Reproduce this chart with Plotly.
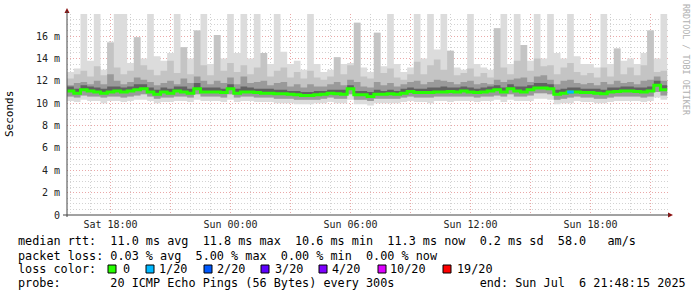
import plotly.graph_objects as go

# ---------------- data (20-minute steps, Sat 15:50 -> Sun 21:50) ----------------
start_hour = 15 + 50 / 60          # hours since Sat 00:00
step_hours = 20 / 60

median_ms = [11.1, 10.9, 11.2, 11.1, 11.0, 10.9, 11.0, 11.1, 11.0, 11.1,
             11.2, 11.3, 11.0, 10.8, 11.0, 10.9, 11.1, 11.0, 10.9, 11.3,
             11.0, 11.0, 11.0, 10.95, 11.3, 10.9, 11.0, 11.0, 10.95, 10.9,
             10.9, 10.85, 10.85, 10.8, 10.75, 10.7, 10.7, 10.75, 10.8, 10.9,
             10.85, 10.8, 11.3, 10.75, 10.75, 10.6, 10.8, 10.8, 10.85, 10.8,
             10.9, 11.05, 10.95, 10.95, 10.95, 11.0, 11.0, 11.05, 11.0, 11.1,
             11.0, 10.95, 11.0, 11.1, 11.2, 11.0, 11.3, 11.1, 11.0, 11.2,
             11.35, 11.35, 11.3, 10.8, 10.9, 11.0, 11.0, 10.95, 10.95, 10.9,
             10.85, 11.0, 11.05, 11.1, 11.1, 11.05, 11.0, 11.1, 11.6, 11.2,
             11.2]

loss_count = [0, 0, 0, 0, 0, 0, 0, 0, 0, 0,
              0, 0, 0, 0, 0, 0, 0, 0, 0, 0,
              0, 0, 0, 0, 0, 0, 0, 0, 0, 0,
              0, 0, 0, 0, 0, 0, 0, 0, 0, 0,
              0, 0, 0, 0, 0, 0, 0, 0, 0, 0,
              0, 0, 0, 0, 0, 0, 0, 0, 0, 0,
              0, 0, 0, 0, 0, 0, 0, 0, 0, 0,
              0, 0, 0, 0, 0, 1, 0, 0, 0, 0,
              0, 0, 0, 0, 0, 0, 0, 0, 0, 0,
              0]

# smoke envelopes (ms)
smoke_max = [12.8, 13.1, 18, 13.8, 18, 13.0, 15.5, 18, 18, 13.6,
             15.9, 14.0, 18, 14.2, 13.8, 14.5, 18, 15.0, 14.0, 16.5,
             18, 13.5, 16.1, 14.0, 18, 14.5, 18, 14.0, 18, 14.5,
             13.5, 18, 14.6, 13.5, 13.8, 13.0, 18, 13.5, 12.8, 13.0,
             14.1, 13.5, 13.6, 17.2, 13.2, 12.8, 16.3, 13.3, 18, 13.5,
             12.8, 13.2, 18, 14.0, 18, 14.8, 18, 14.7, 13.2, 13.0,
             18, 13.5, 13.2, 13.0, 16.7, 18, 13.5, 18, 15.2, 13.8,
             18, 14.0, 18, 14.5, 14.0, 18, 14.2, 13.5, 13.5, 13.2,
             18, 13.5, 14.9, 13.8, 14.0, 13.5, 14.5, 16.5, 14.0, 18,
             13.0]

smoke_upper_mid = [12.2, 12.6, 12.9, 12.4, 13.3, 12.5, 15.4, 13.2, 12.6, 12.9,
                   15.9, 13.4, 13.0, 12.5, 12.9, 13.8, 12.7, 15.0, 12.6, 16.5,
                   13.4, 12.5, 16.1, 12.9, 13.6, 12.8, 13.4, 12.6, 13.2, 14.5,
                   12.4, 12.9, 13.2, 12.3, 12.8, 12.2, 12.9, 12.3, 12.1, 12.4,
                   14.1, 12.6, 13.4, 17.2, 12.4, 12.2, 16.3, 12.7, 13.1, 12.3,
                   12.1, 12.6, 13.7, 12.6, 13.4, 13.9, 13.0, 14.7, 12.5, 12.7,
                   13.1, 12.4, 12.7, 12.3, 16.7, 13.2, 12.6, 13.8, 15.2, 12.9,
                   14.0, 13.3, 13.4, 12.6, 13.2, 13.6, 12.8, 12.5, 12.7, 12.3,
                   13.2, 12.4, 14.9, 12.6, 13.2, 12.5, 13.4, 16.5, 12.8, 12.9,
                   12.4]

smoke_upper_dark = [11.6, 11.8, 11.9, 11.7, 12.0, 11.7, 12.6, 12.0, 11.7, 11.9,
                    12.3, 12.1, 11.9, 11.6, 11.8, 12.0, 11.7, 12.2, 11.8, 12.4,
                    12.0, 11.7, 12.0, 11.8, 12.3, 11.7, 12.4, 11.8, 11.9, 12.0,
                    11.6, 11.8, 11.9, 11.5, 11.7, 11.4, 11.7, 11.5, 11.5, 11.7,
                    11.9, 11.6, 12.1, 11.9, 11.5, 11.4, 11.9, 11.6, 11.8, 11.5,
                    11.7, 11.9, 12.0, 11.7, 11.9, 12.1, 12.0, 11.9, 11.7, 11.9,
                    12.0, 11.7, 11.8, 11.7, 12.1, 11.9, 12.1, 12.2, 12.3, 11.9,
                    12.4, 12.5, 12.1, 11.7, 12.0, 12.1, 11.8, 11.7, 11.8, 11.6,
                    11.9, 11.7, 12.0, 11.8, 11.9, 11.7, 12.0, 12.1, 12.4, 12.0,
                    11.8]

smoke_upper_core = [11.5, 11.3, 11.6, 11.5, 11.4, 11.3, 11.5, 11.5, 11.4, 11.5,
                    11.7, 11.7, 11.4, 11.2, 11.4, 11.3, 11.5, 11.5, 11.3, 11.8,
                    11.4, 11.4, 11.4, 11.3, 11.7, 11.3, 11.5, 11.4, 11.3, 11.3,
                    11.3, 11.2, 11.2, 11.1, 11.1, 11.0, 11.0, 11.1, 11.1, 11.2,
                    11.2, 11.2, 11.6, 11.1, 11.1, 11.0, 11.2, 11.1, 11.2, 11.1,
                    11.3, 11.4, 11.3, 11.3, 11.4, 11.4, 11.5, 11.4, 11.4, 11.5,
                    11.4, 11.3, 11.4, 11.5, 11.6, 11.4, 11.7, 11.5, 11.5, 11.6,
                    11.8, 11.8, 11.7, 11.2, 11.3, 11.4, 11.4, 11.3, 11.3, 11.3,
                    11.2, 11.4, 11.4, 11.5, 11.5, 11.4, 11.4, 11.5, 12.0, 11.6,
                    11.5]

smoke_lower_mid = [10.6, 10.5, 10.7, 10.6, 10.6, 10.5, 10.6, 10.6, 10.5, 10.6,
                   10.7, 10.8, 10.6, 10.4, 10.5, 10.5, 10.6, 10.6, 10.5, 10.8,
                   10.6, 10.6, 10.6, 10.5, 10.8, 10.5, 10.6, 10.6, 10.5, 10.5,
                   10.5, 10.4, 10.4, 10.4, 10.3, 10.3, 10.3, 10.3, 10.4, 10.5,
                   10.4, 10.4, 10.8, 10.3, 10.3, 10.2, 10.4, 10.4, 10.4, 10.4,
                   10.5, 10.6, 10.5, 10.5, 10.5, 10.6, 10.6, 10.6, 10.6, 10.6,
                   10.6, 10.5, 10.6, 10.6, 10.7, 10.6, 10.8, 10.6, 10.6, 10.7,
                   10.9, 10.9, 10.8, 10.3, 10.4, 10.5, 10.6, 10.5, 10.5, 10.4,
                   10.4, 10.5, 10.6, 10.6, 10.6, 10.6, 10.5, 10.6, 11.0, 10.7,
                   10.7]

smoke_min = [10.2, 10.1, 10.3, 10.2, 10.2, 10.0, 10.2, 10.2, 10.1, 10.2,
             10.3, 10.3, 10.2, 10.0, 10.1, 10.1, 10.2, 10.2, 10.1, 10.3,
             10.2, 10.2, 10.2, 10.1, 10.3, 10.1, 10.2, 10.2, 10.1, 10.1,
             10.1, 10.0, 10.0, 10.0, 9.9, 9.9, 9.9, 10.0, 10.0, 10.1,
             10.0, 10.0, 10.3, 9.9, 9.9, 9.8, 10.0, 10.0, 10.0, 10.0,
             10.1, 10.2, 10.1, 10.1, 10.0, 10.2, 10.2, 10.1, 10.2, 10.2,
             10.2, 10.1, 10.2, 10.2, 10.3, 10.1, 10.3, 10.2, 10.2, 10.2,
             10.4, 10.4, 10.3, 9.9, 10.0, 10.0, 10.2, 10.1, 10.1, 10.0,
             10.0, 10.1, 10.2, 10.2, 10.2, 10.2, 10.1, 10.2, 10.5, 10.3,
             10.3]

x_tick_hours = [18, 21, 24, 27, 30, 33, 36, 39, 42, 45]
x_tick_text = ["Sat 18:00", "", "Sun 00:00", "", "Sun 06:00", "", "Sun 12:00", "", "Sun 18:00", ""]
y_tick_vals = [0, 2, 4, 6, 8, 10, 12, 14, 16]
y_tick_text = ["0", "2 m", "4 m", "6 m", "8 m", "10 m", "12 m", "14 m", "16 m"]

loss_labels = ["0", "1/20", "2/20", "3/20", "4/20", "10/20", "19/20"]
loss_steps = [0, 1, 2, 3, 4, 10, 19]
loss_colors = ["#26ff00", "#00b8ff", "#0059ff", "#5e00ff", "#7e00ff", "#dd00ff", "#ff0000"]

legend_rtt = "median rtt:  11.0 ms avg  11.8 ms max  10.6 ms min  11.3 ms now  0.2 ms sd  58.0   am/s"
legend_loss = "packet loss: 0.03 % avg  5.00 % max  0.00 % min  0.00 % now"
legend_probe = "probe:       20 ICMP Echo Pings (56 Bytes) every 300s            end: Sun Jul  6 21:48:15 2025"

# ---------------- figure ----------------
times = [start_hour + i * step_hours for i in range(len(median_ms))]

W, H = 697, 297
L, R, T, B = 67, 29, 14, 82
PW, PH = W - L - R, H - T - B
PX_PER_HOUR = 20
axis_start = 18 - 43.5 / PX_PER_HOUR   # Sat 18:00 sits at x = 110.5 px


def px(xp):
    return (xp - L) / PW


def py(yp):
    return (H - B - yp) / PH


fig = go.Figure()

bands = [
    (smoke_min, smoke_max, "#dcdcdc"),
    (smoke_lower_mid, smoke_upper_mid, "#c4c4c4"),
    (smoke_lower_mid, smoke_upper_dark, "#9a9a9a"),
    (median_ms, smoke_upper_core, "#626262"),
]
for lo, hi, col in bands:
    fig.add_trace(go.Scatter(x=times, y=lo, mode="lines", line=dict(width=0, shape="hv"),
                             showlegend=False, hoverinfo="skip"))
    fig.add_trace(go.Scatter(x=times, y=hi, mode="lines", line=dict(width=0, shape="hv"),
                             fill="tonexty", fillcolor=col, showlegend=False, hoverinfo="skip"))

fig.add_trace(go.Scatter(x=times, y=median_ms, mode="lines",
                         line=dict(color=loss_colors[0], width=3, shape="hv"),
                         showlegend=False))


def loss_color(n):
    col = loss_colors[0]
    for s, c in zip(loss_steps, loss_colors):
        if n >= s:
            col = c
    return col


for i, n in enumerate(loss_count):
    if n > 0 and i + 1 < len(times):
        fig.add_trace(go.Scatter(x=[times[i], times[i + 1]], y=[median_ms[i], median_ms[i]],
                                 mode="lines", line=dict(color=loss_color(n), width=3),
                                 showlegend=False))

mono = "DejaVu Sans Mono"
ann = []


def txt(s, x, y, size=11.8, color="#000000", angle=0, xanchor="left"):
    ann.append(dict(text=s.replace(" ", "\u00a0"), x=px(x), y=py(y), xref="paper", yref="paper",
                    xanchor=xanchor, yanchor="middle", showarrow=False, textangle=angle,
                    font=dict(family=mono, size=size, color=color)))


txt(legend_rtt, 16, 241)
txt(legend_loss, 16, 256)
txt("loss color:", 16, 269)
txt(legend_probe, 16, 283)
txt("Seconds", 10, 114, size=11, angle=-90, xanchor="center")
txt("RRDTOOL / TOBI OETIKER", 686, 60, size=8.4, color="#b0b0b0", angle=90, xanchor="center")

shapes = []
square_left = [108, 146, 204, 261, 319, 378, 443]
label_left = [121, 157, 215, 273, 330, 388, 455]
for sl, ll, lab, col in zip(square_left, label_left, loss_labels, loss_colors):
    shapes.append(dict(type="rect", xref="paper", yref="paper",
                       x0=px(sl), x1=px(sl + 8), y0=py(273), y1=py(265),
                       fillcolor=col, line=dict(color="#000000", width=1)))
    txt(lab, ll, 269)

# axis arrows
arrow_col = "#8b1010"
shapes.append(dict(type="path", xref="paper", yref="paper",
                   path=f"M {px(64.5)} {py(13)} L {px(69.5)} {py(13)} L {px(67)} {py(8)} Z",
                   fillcolor=arrow_col, line=dict(color=arrow_col, width=0)))
shapes.append(dict(type="path", xref="paper", yref="paper",
                   path=f"M {px(668)} {py(212.5)} L {px(668)} {py(217.5)} L {px(673)} {py(215)} Z",
                   fillcolor=arrow_col, line=dict(color=arrow_col, width=0)))
shapes.append(dict(type="line", xref="paper", yref="paper", x0=px(67), x1=px(67),
                   y0=py(217), y1=py(11), line=dict(color="#444444", width=1)))
shapes.append(dict(type="line", xref="paper", yref="paper", x0=px(63), x1=px(669),
                   y0=py(215), y1=py(215), line=dict(color="#444444", width=1)))

grid_dash = "1px,2px"
fig.update_layout(
    width=W, height=H, autosize=False,
    margin=dict(l=L, r=R, t=T, b=B, pad=0),
    paper_bgcolor="#ffffff", plot_bgcolor="#ffffff",
    showlegend=False,
    annotations=ann, shapes=shapes,
    xaxis=dict(range=[axis_start, axis_start + PW / PX_PER_HOUR], tickmode="array",
               tickvals=x_tick_hours, ticktext=x_tick_text,
               showgrid=True, gridcolor="#eaa8a8", griddash=grid_dash, gridwidth=1,
               minor=dict(tickmode="linear", tick0=0, dtick=1, showgrid=True,
                          gridcolor="#d2d2d2", griddash=grid_dash, gridwidth=1),
               zeroline=False, showline=False, ticks="",
               tickfont=dict(family=mono, size=10, color="#222222"),
               ticklabelstandoff=2, fixedrange=True),
    yaxis=dict(range=[0, 17.98], tickmode="array", tickvals=y_tick_vals, ticktext=y_tick_text,
               showgrid=True, gridcolor="#eaa8a8", griddash=grid_dash, gridwidth=1,
               minor=dict(tickmode="linear", tick0=0, dtick=0.5, showgrid=True,
                          gridcolor="#d2d2d2", griddash=grid_dash, gridwidth=1),
               zeroline=False, showline=False, ticks="",
               tickfont=dict(family=mono, size=10, color="#222222"),
               ticklabelstandoff=6, fixedrange=True),
)

fig.write_html("out.html")
